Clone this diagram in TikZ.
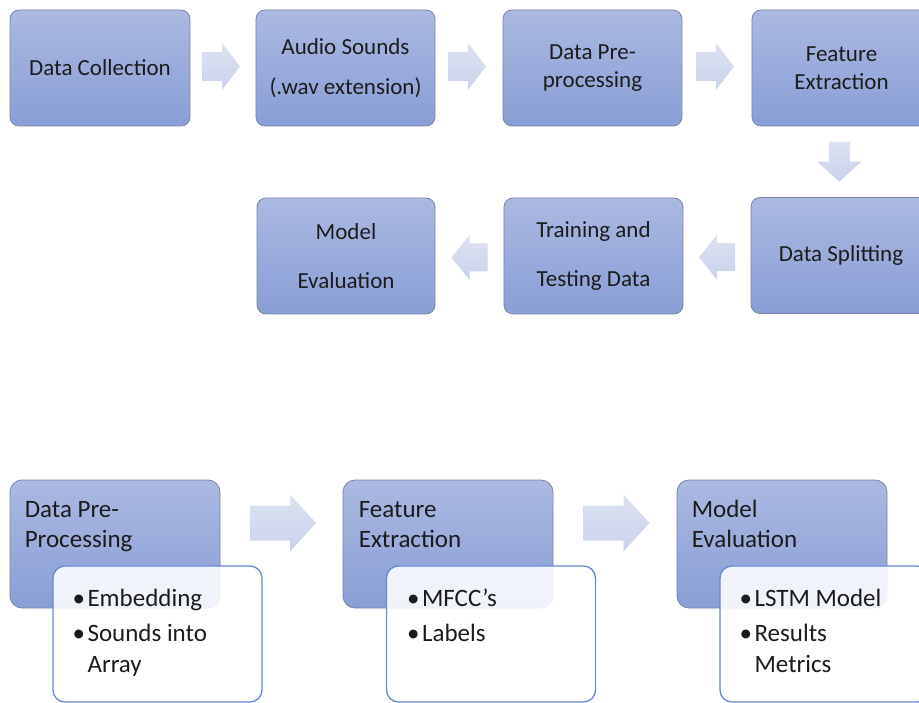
\documentclass[tikz,border=0pt]{standalone}
\usepackage{fontspec}
\setmainfont{Carlito}
\usetikzlibrary{calc}
\definecolor{boxtop}{RGB}{171,185,226}
\definecolor{boxbot}{RGB}{137,158,214}
\definecolor{boxline}{RGB}{122,133,165}
\definecolor{arrtop}{RGB}{220,226,242}
\definecolor{arrbot}{RGB}{202,210,235}
\definecolor{wline}{RGB}{100,138,208}
\definecolor{txt}{RGB}{28,28,28}
\begin{document}
\begin{tikzpicture}[x=1pt,y=1pt,
  topbox/.style={draw=boxline, line width=0.8pt, rounded corners=9pt,
    top color=boxtop, bottom color=boxbot, minimum height=116pt,
    align=center, font=\fontsize{23}{28}\selectfont, text=txt, inner sep=0pt},
  gbox/.style={draw=boxline, line width=0.8pt, rounded corners=12pt,
    top color=boxtop, bottom color=boxbot, minimum width=210pt, minimum height=128pt, inner sep=0pt},
  wbox/.style={draw=wline, line width=1.3pt, rounded corners=12pt, fill=white,
    fill opacity=0.88, minimum width=209pt, minimum height=136pt, inner sep=0pt},
  btext/.style={anchor=base west, inner sep=0pt, text=txt, font=\fontsize{25}{30}\selectfont},
  arrshade/.style={top color=arrtop, bottom color=arrbot, draw=none},
  rarr/.pic={\path[arrshade] (-19,-14.5) -- (1,-14.5) -- (1,-23.5) -- (19,0) -- (1,23.5) -- (1,14.5) -- (-19,14.5) -- cycle;},
  larr/.pic={\path[arrshade] (18,-14) -- (0,-14) -- (0,-22.5) -- (-18,0) -- (0,22.5) -- (0,14) -- (18,14) -- cycle;},
  darr/.pic={\path[arrshade] (-10.5,20) -- (10.5,20) -- (10.5,0) -- (22,0) -- (0,-20) -- (-22,0) -- (-10.5,0) -- cycle;},
  brarr/.pic={\path[arrshade] (-33,-17.5) -- (7,-17.5) -- (7,-28.5) -- (33,0) -- (7,28.5) -- (7,17.5) -- (-33,17.5) -- cycle;}
]
\useasboundingbox (0,0) rectangle (919,-703);
\fill[white] (0,0) rectangle (919,-703);
\clip (0,0) rectangle (919,-703);

% top row
\node[topbox, minimum width=180pt] (b1) at (100,-68) {Data Collection};
\node[topbox, minimum width=179pt] (b2) at (345.5,-68) {Audio Sounds\\[12pt](.wav extension)};
\node[topbox, minimum width=179pt] (b3) at (592.5,-68) {Data Pre-\\processing};
\node[topbox, minimum width=179pt] (b4) at (841.5,-68) {Feature\\Extraction};

% second row
\node[topbox, minimum width=178pt] (r1) at (346,-256) {Model\\[21pt]Evaluation};
\node[topbox, minimum width=179pt] (r2) at (593.5,-256) {Training and\\[21pt]Testing Data};
\node[topbox, minimum width=180pt] (r3) at (841,-255.5) {Data Splitting};

% arrows
\pic at ($(b1.east)!0.5!(b2.west)+(-2,1.5)$) {rarr};
\pic at ($(b2.east)!0.5!(b3.west)+(-2,1.5)$) {rarr};
\pic at ($(b3.east)!0.5!(b4.west)+(-2,1.5)$) {rarr};
\pic at ($(b4.south)!0.5!(r3.north)+(-2,0)$) {darr};
\pic at ($(r3.west)!0.5!(r2.east)+(0,-1.5)$) {larr};
\pic at ($(r2.west)!0.5!(r1.east)+(0,-1.5)$) {larr};

% bottom groups
\node[gbox] (g1) at (115,-544) {};
\node[gbox] (g2) at (448,-544) {};
\node[gbox] (g3) at (782,-544) {};
\pic at ($(g1.east)!0.5!(g2.west)+(1.5,21)$) {brarr};
\pic at ($(g2.east)!0.5!(g3.west)+(1.5,21)$) {brarr};

\node[btext] (g1a) at ($(g1.north west)+(15,-38)$) {Data Pre-};
\node[btext] (g1b) at ($(g1.north west)+(15,-68)$) {Processing};
\node[btext] (g2a) at ($(g2.north west)+(16,-38)$) {Feature};
\node[btext] (g2b) at ($(g2.north west)+(16,-68)$) {Extraction};
\node[btext] (g3a) at ($(g3.north west)+(15,-38)$) {Model};
\node[btext] (g3b) at ($(g3.north west)+(15,-68)$) {Evaluation};

\node[wbox] (w1) at (157.5,-634) {};
\node[wbox] (w2) at (491,-634) {};
\node[wbox] (w3) at (824.5,-634) {};

\node[btext] (w1a) at ($(w1.north west)+(20,-41)$) {\makebox[15pt][l]{•}Embedding};
\node[btext] (w1b) at ($(w1.north west)+(20,-76)$) {\makebox[15pt][l]{•}Sounds into};
\node[btext] (w1c) at ($(w1.north west)+(35,-107)$) {Array};
\node[btext] (w2a) at ($(w2.north west)+(21,-41)$) {\makebox[15pt][l]{•}MFCC’s};
\node[btext] (w2b) at ($(w2.north west)+(21,-76)$) {\makebox[15pt][l]{•}Labels};
\node[btext] (w3a) at ($(w3.north west)+(20,-41)$) {\makebox[15pt][l]{•}LSTM Model};
\node[btext] (w3b) at ($(w3.north west)+(20,-76)$) {\makebox[15pt][l]{•}Results};
\node[btext] (w3c) at ($(w3.north west)+(35,-107)$) {Metrics};
\end{tikzpicture}
\end{document}
